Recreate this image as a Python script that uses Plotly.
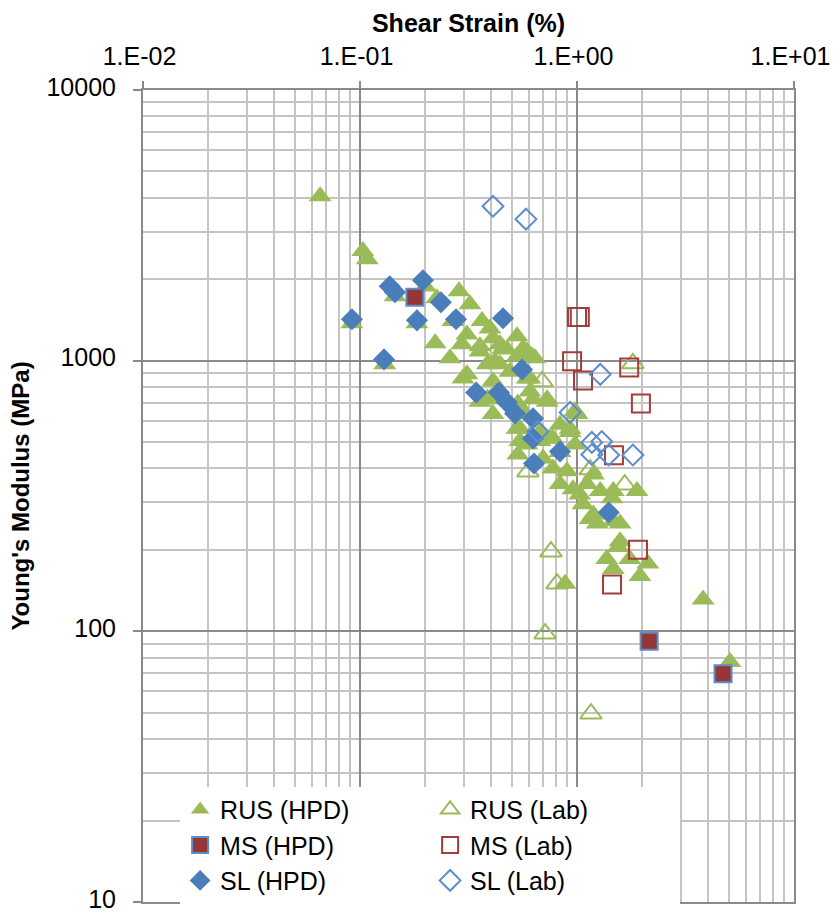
import plotly.graph_objects as go

# ---- data (x = shear strain %, y = Young's modulus MPa) ----
rus_hpd_x = [0.0655, 0.103, 0.108, 0.0918, 0.130, 0.145, 0.200, 0.183, 0.226, 0.286,
             0.268, 0.321, 0.222, 0.260, 0.311, 0.295, 0.357, 0.365, 0.397, 0.419,
             0.389, 0.298, 0.442, 0.529, 0.564, 0.621, 0.529, 0.476, 0.397, 0.410,
             0.357, 0.607, 0.728, 0.627, 0.546, 0.589, 0.675, 0.775, 0.357, 0.410,
             0.456, 0.589, 0.640, 0.442, 0.387, 0.311, 0.410, 0.491, 0.589, 0.607,
             0.728, 0.387, 0.534, 0.576, 0.529, 0.546, 0.534, 0.675, 0.752, 0.835,
             1.00, 0.929, 0.979, 0.835, 0.697, 0.775, 0.899, 0.835, 0.959, 1.03,
             1.19, 1.28, 1.47, 1.11, 0.979, 0.929, 1.89, 1.066, 1.19, 1.58,
             1.45, 1.15, 1.24, 1.47, 1.58, 1.37, 1.55, 1.75, 2.12, 1.95,
             1.47, 0.881, 3.81, 5.07]
rus_hpd_y = [4050, 2540, 2370, 1375, 970, 1730, 1880, 1375, 1700, 1805,
             1400, 1615, 1160, 1020, 1250, 1150, 1130, 1400, 1315, 995,
             975, 860, 1150, 1230, 1110, 1035, 1035, 1100, 720, 635,
             705, 860, 720, 720, 560, 490, 505, 515, 1080, 1210,
             1110, 1080, 1020, 970, 970, 890, 840, 910, 860, 770,
             705, 725, 695, 635, 560, 505, 450, 545, 515, 580,
             635, 545, 490, 460, 435, 400, 390, 350, 335, 320,
             380, 330, 330, 350, 650, 560, 330, 295, 270, 250,
             310, 260, 250, 255, 215, 185, 205, 185, 178, 160,
             170, 150, 131, 77]

rus_lab_x = [0.690, 0.594, 1.15, 1.66, 1.81, 0.759, 0.809, 0.713, 1.16]
rus_lab_y = [838, 389, 396, 348, 977, 197, 150, 98, 49.6]

ms_hpd_x = [0.179, 2.15, 4.71]
ms_hpd_y = [1714, 92, 69.7]

ms_lab_x = [1.00, 1.03, 0.949, 1.066, 1.74, 1.97, 1.48, 1.91, 1.45]
ms_lab_y = [1450, 1450, 994, 845, 944, 695, 447, 200, 149]

sl_hpd_x = [0.0918, 0.129, 0.137, 0.145, 0.195, 0.183, 0.236, 0.277, 0.456, 0.343,
            0.558, 0.437, 0.476, 0.518, 0.627, 0.627, 0.634, 0.835, 1.40]
sl_hpd_y = [1422, 1011, 1884, 1790, 1982, 1409, 1644, 1422, 1435, 763,
            928, 763, 701, 638, 612, 516, 417, 462, 275]

sl_lab_x = [0.41, 0.582, 1.28, 0.929, 0.661, 1.17, 1.30, 1.17, 1.40, 1.81]
sl_lab_y = [3720, 3333, 890, 644, 547, 499, 503, 450, 448, 448]

x_tick_vals = [0.01, 0.1, 1, 10]
x_tick_text = ["1.E-02", "1.E-01", "1.E+00", "1.E+01"]
y_tick_vals = [10, 100, 1000, 10000]
y_tick_text = ["10", "100", "1000", "10000"]

GREEN = "#9BBB59"
BLUE = "#4A7EBB"
LBLUE = "#5B8CCB"
RED = "#953735"
RED_O = "#A33C3A"

FONT = "Liberation Sans, Arial, sans-serif"

fig = go.Figure()
fig.add_trace(go.Scatter(x=rus_hpd_x, y=rus_hpd_y, mode="markers", name="RUS (HPD)",
                         marker=dict(symbol="triangle-up", size=20, color=GREEN,
                                     line=dict(width=0))))
fig.add_trace(go.Scatter(x=rus_lab_x, y=rus_lab_y, mode="markers", name="RUS (Lab)",
                         marker=dict(symbol="triangle-up-open", size=19, color=GREEN,
                                     line=dict(width=2, color=GREEN))))
fig.add_trace(go.Scatter(x=ms_hpd_x, y=ms_hpd_y, mode="markers", name="MS (HPD)",
                         marker=dict(symbol="square", size=17, color=RED,
                                     line=dict(width=2, color=LBLUE))))
fig.add_trace(go.Scatter(x=ms_lab_x, y=ms_lab_y, mode="markers", name="MS (Lab)",
                         marker=dict(symbol="square-open", size=18, color=RED_O,
                                     line=dict(width=2, color=RED_O))))
fig.add_trace(go.Scatter(x=sl_hpd_x, y=sl_hpd_y, mode="markers", name="SL (HPD)",
                         marker=dict(symbol="diamond", size=17, color=BLUE,
                                     line=dict(width=0))))
fig.add_trace(go.Scatter(x=sl_lab_x, y=sl_lab_y, mode="markers", name="SL (Lab)",
                         marker=dict(symbol="diamond-open", size=16, color=LBLUE,
                                     line=dict(width=2, color=LBLUE))))

MAJOR = "#8A8A8A"
MINOR = "#C4C4C4"

def minor_vals(lo, hi):
    out = []
    d = lo
    while d < hi:
        for k in range(2, 10):
            out.append(k * d)
        d *= 10
    return out

NB = "\u00a0"

fig.update_layout(
    width=836, height=911,
    margin=dict(l=143, r=42, t=90, b=9, autoexpand=False),
    paper_bgcolor="white", plot_bgcolor="white",
    font=dict(family=FONT, color="black"),
    showlegend=True,
    legend=dict(orientation="h", x=0.057, y=0.07, xanchor="left", yanchor="middle",
                bgcolor="white", borderwidth=0, font=dict(size=25, family=FONT),
                entrywidth=205, entrywidthmode="pixels", itemsizing="trace",
                tracegroupgap=0),
    xaxis=dict(type="log", range=[-2, 1], side="top", automargin=False,
               tickmode="array", tickvals=x_tick_vals,
               ticktext=[t + NB for t in x_tick_text],
               tickfont=dict(size=25, family=FONT), ticks="outside", ticklen=7,
               tickcolor=MAJOR, tickwidth=2, ticklabelstandoff=6,
               ticklabeloverflow="allow",
               showgrid=True, gridcolor=MAJOR, gridwidth=2,
               showline=True, linecolor=MAJOR, linewidth=2, mirror=True,
               minor=dict(tickmode="array", tickvals=minor_vals(0.01, 10),
                          showgrid=True, gridcolor=MINOR, gridwidth=1.5, ticks=""),
               title=dict(text="<b>Shear Strain (%)</b>", font=dict(size=25, family=FONT),
                          standoff=2),
               zeroline=False),
    yaxis=dict(type="log", range=[1, 4], automargin=False,
               tickmode="array", tickvals=y_tick_vals, ticktext=y_tick_text,
               tickfont=dict(size=25, family=FONT), ticks="outside", ticklen=8,
               tickcolor=MAJOR, tickwidth=2, ticklabelstandoff=12,
               ticklabeloverflow="allow", ticklabelshift=-3,
               showgrid=True, gridcolor=MAJOR, gridwidth=2,
               showline=True, linecolor=MAJOR, linewidth=2, mirror=True,
               minor=dict(tickmode="array", tickvals=minor_vals(10, 10000),
                          showgrid=True, gridcolor=MINOR, gridwidth=1.5, ticks=""),
               title=dict(text="<b>Young's Modulus (MPa)</b>", font=dict(size=24, family=FONT),
                          standoff=10),
               zeroline=False),
)

fig.write_html("out.html")
